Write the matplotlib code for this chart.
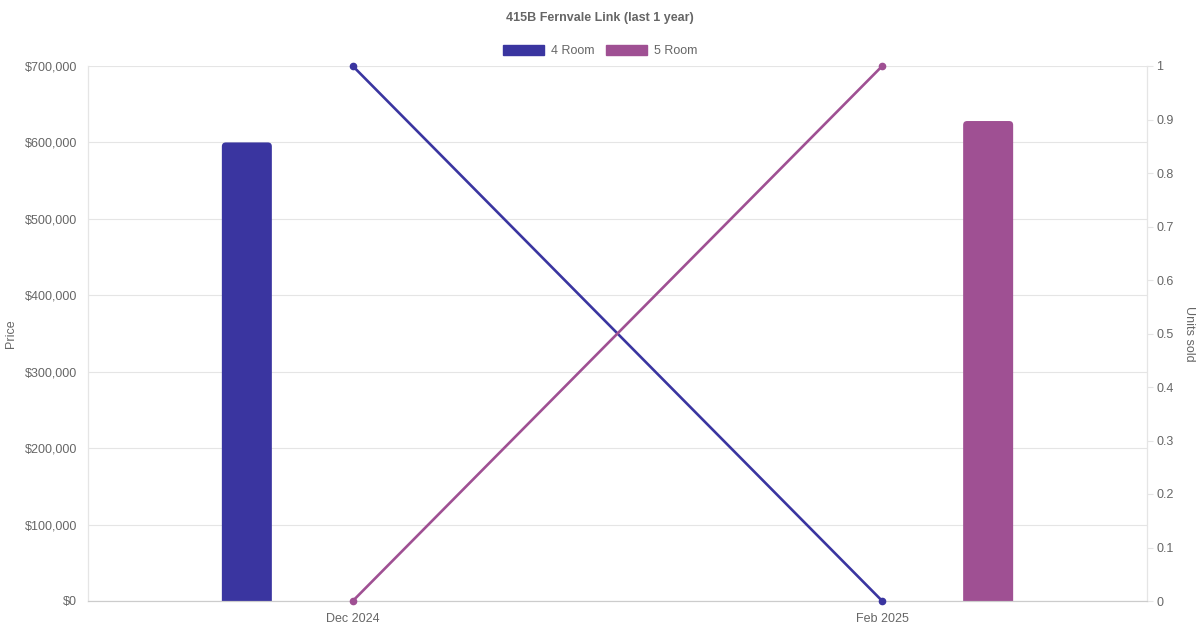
import matplotlib

matplotlib.use("Agg")
import matplotlib.pyplot as plt
from matplotlib.patches import FancyBboxPatch, Patch

plt.rcParams["font.family"] = ["Liberation Sans", "DejaVu Sans"]

TITLE = "415B Fernvale Link (last 1 year)"
months = ["Dec 2024", "Feb 2025"]
series = ["4 Room", "5 Room"]
colors = ["#3a35a0", "#9f5093"]
prices = {
    "4 Room": [600000, 0],
    "5 Room": [0, 628000],
}
units = {
    "4 Room": [1, 0],
    "5 Room": [0, 1],
}

TEXT = "#666666"
GRID = "#e5e5e5"

W, H = 1200, 630
fig = plt.figure(figsize=(W / 100, H / 100), dpi=100)
left, right, top, bottom = 88, 1147, 66, 601
ax = fig.add_axes([left / W, 1 - bottom / H, (right - left) / W, (bottom - top) / H])
ax2 = ax.twinx()

x = list(range(len(months)))
ax.set_xlim(-0.5, len(months) - 0.5)
ax.set_ylim(0, 700000)
ax2.set_ylim(0, 1)

# bars: grouped slots, max thickness 50px, rounded tops
px_x = (right - left) / (len(months))  # pixels per category unit
px_y = (bottom - top) / 700000
bar_w = 50 / px_x
radius_px = 4
offsets = [-0.2, 0.2]
for i, name in enumerate(series):
    for xi, val in zip(x, prices[name]):
        if val <= 0:
            continue
        r = radius_px / px_x
        box = FancyBboxPatch(
            (xi + offsets[i] - bar_w / 2 + r, -radius_px / px_y * 2),
            bar_w - 2 * r,
            val + radius_px / px_y * 2 - r * (px_x / px_y),
            boxstyle=f"round,pad={r},rounding_size={r}",
            mutation_aspect=px_x / px_y,
            facecolor=colors[i],
            edgecolor="none",
            zorder=2,
        )
        ax.add_patch(box)

for i, name in enumerate(series):
    ax2.plot(x, units[name], color=colors[i], lw=1.9, marker="o", ms=4.5,
             zorder=3, clip_on=False)

ax.set_yticks(range(0, 700001, 100000))
ax.set_yticklabels([f"${v:,}" for v in range(0, 700001, 100000)])
ax2.set_yticks([k / 10 for k in range(11)])
ax2.set_yticklabels(["0"] + [f"{k / 10:g}" for k in range(1, 10)] + ["1"])
ax.set_xticks(x, months)

ax.grid(axis="y", color=GRID, lw=0.8)
ax.set_axisbelow(True)
for a in (ax, ax2):
    a.spines["top"].set_visible(False)
    a.spines["left"].set_color(GRID)
    a.spines["right"].set_color(GRID)
    a.spines["bottom"].set_color("#cccccc")
ax.tick_params(axis="y", length=0, pad=8, labelsize=9, labelcolor=TEXT)
ax.tick_params(axis="x", length=0, pad=9, labelsize=9, labelcolor=TEXT)
ax2.tick_params(axis="y", length=4.5, width=0.8, color=GRID, pad=2, labelsize=9,
                labelcolor=TEXT)

ax.set_ylabel("Price", color=TEXT, fontsize=9, va="center")
ax.yaxis.set_label_coords((11 - left) / (right - left), 0.5)
ax2.set_ylabel("Units sold", color=TEXT, fontsize=9, rotation=270, va="center")
ax2.yaxis.set_label_coords((1189 - left) / (right - left), 0.5)

fig.text(0.5, 1 - 18 / H, TITLE, ha="center", va="center", fontsize=9,
         fontweight="bold", color=TEXT)

handles = [Patch(facecolor=c, edgecolor=c, label=n) for n, c in zip(series, colors)]
fig.legend(handles=handles, loc="center", bbox_to_anchor=(0.5, 1 - 51 / H), ncol=2,
           frameon=False, fontsize=9, labelcolor=TEXT, handlelength=3.3,
           handleheight=0.9, handletextpad=0.55, columnspacing=0.9)

fig.savefig("out.png", dpi=100)
